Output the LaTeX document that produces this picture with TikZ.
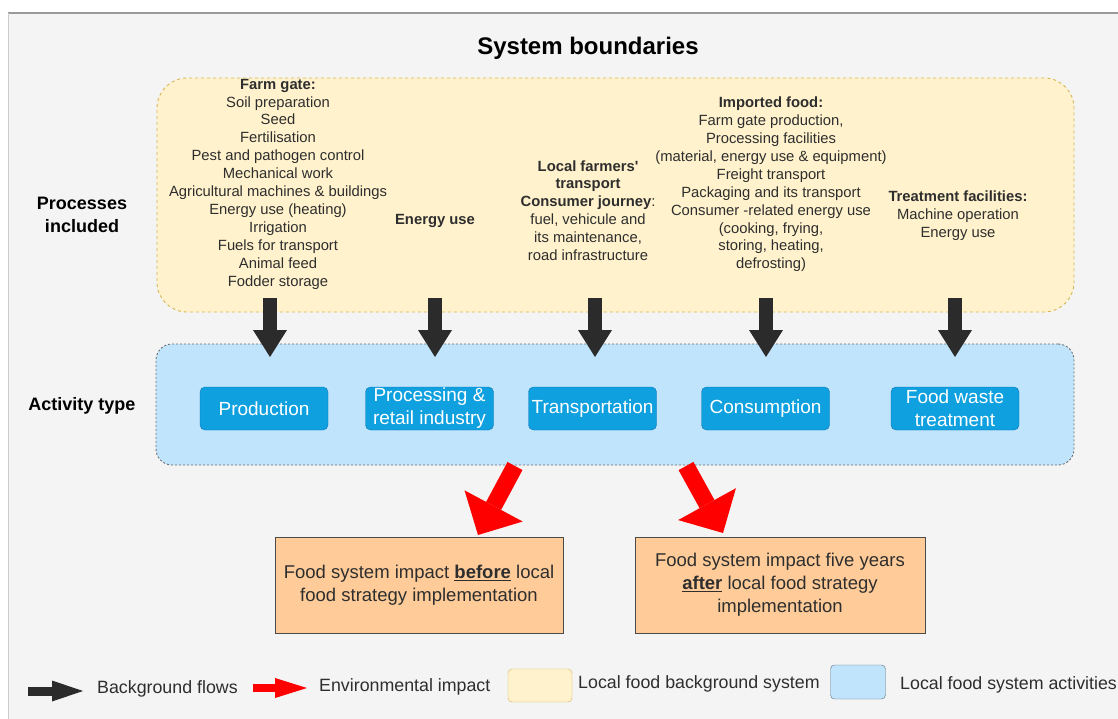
\documentclass[tikz,border=0pt]{standalone}
\usepackage{fontspec}
\setmainfont{Liberation Sans}
\usetikzlibrary{arrows.meta}
\definecolor{pagegray}{HTML}{F4F4F4}
\definecolor{framegray}{HTML}{9A9A9A}
\definecolor{bgyellow}{HTML}{FFF2CC}
\definecolor{bgyellowline}{HTML}{D6B656}
\definecolor{actblue}{HTML}{C0E4FB}
\definecolor{actline}{HTML}{6D6D6D}
\definecolor{boxblue}{HTML}{0FA0E0}
\definecolor{boxblueline}{HTML}{0E74B4}
\definecolor{impactorange}{HTML}{FFCC99}
\definecolor{impactline}{HTML}{4A4A4A}
\definecolor{flowblack}{HTML}{2B2B2B}
\definecolor{textgray}{HTML}{2E2E2E}
\definecolor{legendblue}{HTML}{5C7080}
\tikzset{
  region/.style={rectangle, inner sep=0pt, line width=0.9pt},
  proctext/.style={align=center, inner sep=0pt, text=textgray, font=\fontsize{14.8}{17.9}\selectfont},
  rowlabel/.style={align=center, inner sep=0pt, font=\bfseries\fontsize{18}{23}\selectfont},
  activity/.style={rectangle, rounded corners=5pt, fill=boxblue, draw=boxblueline, text=white, minimum width=128pt, minimum height=43pt, inner sep=0pt, align=center, font=\fontsize{19}{23}\selectfont},
  impact/.style={rectangle, fill=impactorange, draw=impactline, line width=1pt, minimum height=96pt, inner sep=0pt, align=center, text=textgray, font=\fontsize{18.5}{23}\selectfont},
  bgflow/.style={draw=flowblack, line width=14pt, -{Triangle[width=34pt,length=27pt,line width=0pt]}},
  envflow/.style={draw=red, line width=17pt, -{Triangle[width=66pt,length=33pt,line width=0pt]}},
  bgkey/.style={draw=flowblack, line width=9pt, -{Triangle[width=21pt,length=31pt,line width=0pt]}},
  envkey/.style={draw=red, line width=8pt, -{Triangle[width=20pt,length=32pt,line width=0pt]}},
  keybox/.style={rectangle, rounded corners=4pt, inner sep=0pt},
  legtext/.style={anchor=west, inner sep=0pt, text=textgray, font=\fontsize{17.8}{21}\selectfont},
}
\begin{document}
\begin{tikzpicture}[x=1pt,y=-1pt]
\useasboundingbox (0,0) rectangle (1118,719);
\fill[white] (0,0) rectangle (1118,719);
\fill[pagegray] (8,13) rectangle (1118,719);
\draw[framegray, line width=1.5pt] (8,13) -- (1118,13);
\draw[black!20] (8,13) -- (8,719);
\node[font=\bfseries\fontsize{24}{28}\selectfont] (title) at (588,48) {System boundaries};
\node[region, rounded corners=30pt, fill=bgyellow, draw=bgyellowline, dash pattern=on 3pt off 3pt, minimum width=917pt, minimum height=234pt] (bgsys) at (615.5,195) {};
\node[region, rounded corners=16pt, fill=actblue, draw=actline, dash pattern=on 2pt off 2pt, minimum width=918pt, minimum height=121pt] (actsys) at (615,404.5) {};
\node[rowlabel] (proclabel) at (82,215) {Processes\\included};
\node[rowlabel] (actlabel) at (82,406) {Activity type};
\node[proctext] (farmgate) at (278,184) {\textbf{Farm gate:}\\Soil preparation\\Seed\\Fertilisation\\Pest and pathogen control\\Mechanical work\\Agricultural machines \& buildings\\Energy use (heating)\\Irrigation\\Fuels for transport\\Animal feed\\Fodder storage};
\node[proctext] (energy) at (435,221) {\textbf{Energy use}};
\node[proctext] (journey) at (588,210.5) {\textbf{Local farmers\textquotesingle}\\\textbf{transport}\\\textbf{Consumer journey}:\\fuel, vehicule and\\its maintenance,\\road infrastructure};
\node[proctext] (imported) at (771,184.5) {\textbf{Imported food:}\\Farm gate production,\\Processing facilities\\(material, energy use \& equipment)\\Freight transport\\Packaging and its transport\\Consumer -related energy use\\(cooking, frying,\\storing, heating,\\defrosting)};
\node[proctext] (treatment) at (958,216) {\textbf{Treatment facilities:}\\Machine operation\\Energy use};
\node[activity] (production) at (264,408.5) {Production};
\node[activity] (processing) at (429.5,408.5) {Processing \&\\retail industry};
\node[activity] (transport) at (592.5,408.5) {Transportation};
\node[activity] (consumption) at (765.5,408.5) {Consumption};
\node[activity] (waste) at (955,408.5) {Food waste\\treatment};
\coordinate (farmgateout) at (270,298);
\coordinate (productionin) at (270,357);
\coordinate (energyout) at (435,298);
\coordinate (processingin) at (435,357);
\coordinate (journeyout) at (595,298);
\coordinate (transportin) at (595,357);
\coordinate (importedout) at (766,298);
\coordinate (consumptionin) at (766,357);
\coordinate (treatmentout) at (955,298);
\coordinate (wastein) at (955,357);
\draw[bgflow] (farmgateout) -- (productionin);
\draw[bgflow] (energyout) -- (processingin);
\draw[bgflow] (journeyout) -- (transportin);
\draw[bgflow] (importedout) -- (consumptionin);
\draw[bgflow] (treatmentout) -- (wastein);
\node[impact, minimum width=288pt] (before) at (419,585) {Food system impact \textbf{\underline{before}} local\\food strategy implementation};
\node[impact, minimum width=290pt] (after) at (780,585) {Food system impact five years\\\textbf{\underline{after}} local food strategy\\implementation};
\coordinate (beforeout) at (515,466);
\coordinate (beforein) at (478,535);
\coordinate (afterout) at (686,466);
\coordinate (afterin) at (723,533);
\draw[envflow] (beforeout) -- (beforein);
\draw[envflow] (afterout) -- (afterin);
\coordinate (bgkeystart) at (28,691);
\coordinate (bgkeyend) at (83,691);
\draw[bgkey] (bgkeystart) -- (bgkeyend);
\node[legtext] (bgkeytext) at (97,689) {Background flows};
\coordinate (envkeystart) at (253,688);
\coordinate (envkeyend) at (307,688);
\draw[envkey] (envkeystart) -- (envkeyend);
\node[legtext] (envkeytext) at (319,687) {Environmental impact};
\node[keybox, fill=bgyellow, draw=bgyellowline, minimum width=64pt, minimum height=33pt] (bgsyskey) at (540,685.5) {};
\node[legtext] (bgsyskeytext) at (578,684) {Local food background system};
\node[keybox, fill=actblue, draw=legendblue, minimum width=55pt, minimum height=34pt] (actsyskey) at (858,682) {};
\node[legtext] (actsyskeytext) at (900,685) {Local food system activities};
\end{tikzpicture}
\end{document}
